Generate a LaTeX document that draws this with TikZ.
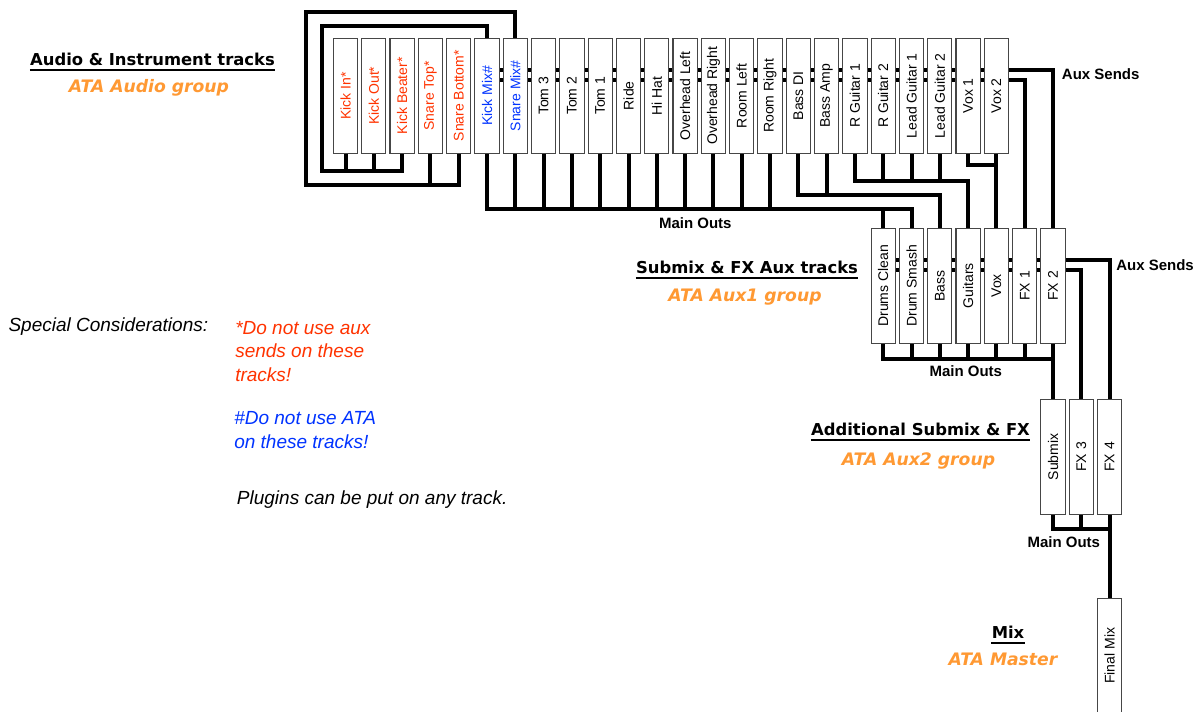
\documentclass[tikz,border=0pt]{standalone}
\usepackage{fontspec}
\setmainfont{Liberation Sans}
\newfontfamily\headfont{DejaVu Sans}
\usepackage{xcolor}
\usepackage{graphicx}
\usepackage{tikz}
\usetikzlibrary{backgrounds}
\definecolor{trackred}{RGB}{255,51,0}
\definecolor{trackblue}{RGB}{0,51,255}
\definecolor{groupamber}{RGB}{255,153,51}
\definecolor{ink}{RGB}{0,0,0}
\definecolor{boxline}{RGB}{70,70,70}

\begin{document}
\begin{tikzpicture}[x=0.75pt, y=-0.75pt,
  track/.style={draw=boxline, line width=0.8pt, fill=white, minimum width=18.2pt, minimum height=86.25pt, inner sep=0pt, text=ink, font={\fontsize{10.5}{12}\selectfont}},
  wire/.style={draw=ink, line width=3pt},
  heading/.style={inner sep=0pt, anchor=base, text=ink, font={\headfont\bfseries\fontsize{12.3}{14}\selectfont}},
  groupname/.style={inner sep=0pt, anchor=base, text=groupamber, font={\headfont\bfseries\itshape\fontsize{12.9}{15}\selectfont}},
  buslabel/.style={inner sep=0pt, anchor=base, text=ink, font={\bfseries\fontsize{11.25}{13}\selectfont}},
  note/.style={inner sep=0pt, anchor=base west, align=left, font={\itshape\fontsize{14.25}{17.8}\selectfont}},
  uline/.style={draw=ink, line width=1.5pt}]
  \useasboundingbox (0,0) rectangle (1200,711);
  \clip (0,0) rectangle (1200,711);

  % audio and instrument tracks
  \node[track, text=trackred] (kickin) at (345.5,95.8) {\rotatebox{90}{Kick In*}};
  \node[track, text=trackred] (kickout) at (373.8,95.8) {\rotatebox{90}{Kick Out*}};
  \node[track, text=trackred] (kickbeater) at (402.1,95.8) {\rotatebox{90}{Kick Beater*}};
  \node[track, text=trackred] (snaretop) at (430.4,95.8) {\rotatebox{90}{Snare Top*}};
  \node[track, text=trackred] (snarebottom) at (458.7,95.8) {\rotatebox{90}{Snare Bottom*}};
  \node[track, text=trackblue] (kickmix) at (487.0,95.8) {\rotatebox{90}{Kick Mix\#}};
  \node[track, text=trackblue] (snaremix) at (515.3,95.8) {\rotatebox{90}{Snare Mix\#}};
  \node[track] (tom3) at (543.6,95.8) {\rotatebox{90}{Tom 3}};
  \node[track] (tom2) at (571.9,95.8) {\rotatebox{90}{Tom 2}};
  \node[track] (tom1) at (600.2,95.8) {\rotatebox{90}{Tom 1}};
  \node[track] (ride) at (628.5,95.8) {\rotatebox{90}{Ride}};
  \node[track] (hihat) at (656.8,95.8) {\rotatebox{90}{Hi Hat}};
  \node[track] (ohleft) at (685.1,95.8) {\rotatebox{90}{Overhead Left}};
  \node[track] (ohright) at (713.4,95.8) {\rotatebox{90}{Overhead Right}};
  \node[track] (roomleft) at (741.7,95.8) {\rotatebox{90}{Room Left}};
  \node[track] (roomright) at (770.0,95.8) {\rotatebox{90}{Room Right}};
  \node[track] (bassdi) at (798.3,95.8) {\rotatebox{90}{Bass DI}};
  \node[track] (bassamp) at (826.6,95.8) {\rotatebox{90}{Bass Amp}};
  \node[track] (rguitar1) at (854.9,95.8) {\rotatebox{90}{R Guitar 1}};
  \node[track] (rguitar2) at (883.2,95.8) {\rotatebox{90}{R Guitar 2}};
  \node[track] (leadguitar1) at (911.5,95.8) {\rotatebox{90}{Lead Guitar 1}};
  \node[track] (leadguitar2) at (939.8,95.8) {\rotatebox{90}{Lead Guitar 2}};
  \node[track] (vox1) at (968.1,95.8) {\rotatebox{90}{Vox 1}};
  \node[track] (vox2) at (996.4,95.8) {\rotatebox{90}{Vox 2}};

  % submix and fx aux tracks
  \node[track] (drumsclean) at (883.2,285.8) {\rotatebox{90}{Drums Clean}};
  \node[track] (drumsmash) at (911.5,285.8) {\rotatebox{90}{Drum Smash}};
  \node[track] (bass) at (939.8,285.8) {\rotatebox{90}{Bass}};
  \node[track] (guitars) at (968.1,285.8) {\rotatebox{90}{Guitars}};
  \node[track] (voxbus) at (996.4,285.8) {\rotatebox{90}{Vox}};
  \node[track] (fx1) at (1024.7,285.8) {\rotatebox{90}{FX 1}};
  \node[track] (fx2) at (1053.0,285.8) {\rotatebox{90}{FX 2}};

  % additional submix, fx and mix
  \node[track] (submix) at (1053.0,456.8) {\rotatebox{90}{Submix}};
  \node[track] (fx3) at (1081.3,456.8) {\rotatebox{90}{FX 3}};
  \node[track] (fx4) at (1109.6,456.8) {\rotatebox{90}{FX 4}};
  \node[track] (finalmix) at (1109.6,655.8) {\rotatebox{90}{Final Mix}};

  % group headings
  \node[heading] (audiohead) at (152.5,65) {Audio \& Instrument tracks};
  \node[groupname] (audiogroup) at (149,92.3) {ATA Audio group};
  \node[heading] (auxhead) at (747,273.3) {Submix \& FX Aux tracks};
  \node[groupname] (auxgroup) at (745,301) {ATA Aux1 group};
  \node[heading] (addhead) at (920.5,435) {Additional Submix \& FX};
  \node[groupname] (addgroup) at (918.5,465) {ATA Aux2 group};
  \node[heading] (mixhead) at (1008,638.3) {Mix};
  \node[groupname] (mixgroup) at (1003,665) {ATA Master};
  \draw[uline] ([yshift=-3.75pt]audiohead.base west) -- ([yshift=-3.75pt]audiohead.base east);
  \draw[uline] ([yshift=-3.75pt]auxhead.base west) -- ([yshift=-3.75pt]auxhead.base east);
  \draw[uline] ([yshift=-3.75pt]addhead.base west) -- ([yshift=-3.75pt]addhead.base east);
  \draw[uline] ([yshift=-3.75pt]mixhead.base west) -- ([yshift=-3.75pt]mixhead.base east);

  % bus labels
  \node[buslabel] (mainouts1) at (695.3,228) {Main Outs};
  \node[buslabel] (mainouts2) at (965.8,376.7) {Main Outs};
  \node[buslabel] (mainouts3) at (1063.8,547.3) {Main Outs};
  \node[buslabel, anchor=base west] (auxsends1) at (1061.7,79.3) {Aux Sends};
  \node[buslabel, anchor=base west] (auxsends2) at (1116,270.7) {Aux Sends};

  % notes (base = last line)
  \node[note, text=ink] (special) at (8.3,331.7) {Special Considerations:};
  \node[note, text=trackred] (noaux) at (235,381.7) {*Do not use aux\\sends on these\\tracks!};
  \node[note, text=trackblue] (noata) at (234,448.3) {\#Do not use ATA\\on these tracks!};
  \node[note, text=ink] (plugins) at (236.7,504) {Plugins can be put on any track.};

  \begin{scope}[on background layer]
    \fill[white] (0,0) rectangle (1200,711);
    % kick and snare folds
    \draw[wire] (kickbeater.south) -- ++(0,16.7) -| ++(-80.4,-145) -| (kickmix.north);
    \draw[wire] (kickin.south) -- ++(0,16.7);
    \draw[wire] (kickout.south) -- ++(0,16.7);
    \draw[wire] (snarebottom.south) -- ++(0,31) -| ++(-152.7,-173.3) -| (snaremix.north);
    \draw[wire] (snaretop.south) -- ++(0,31);
    % drums main outs
    \draw[wire] (kickmix.south) -- ++(0,55) -| (drumsmash.north);
    \draw[wire] (drumsclean.north) -- ++(0,-20);
    \draw[wire] (snaremix.south) -- ++(0,55);
    \draw[wire] (tom3.south) -- ++(0,55);
    \draw[wire] (tom2.south) -- ++(0,55);
    \draw[wire] (tom1.south) -- ++(0,55);
    \draw[wire] (ride.south) -- ++(0,55);
    \draw[wire] (hihat.south) -- ++(0,55);
    \draw[wire] (ohleft.south) -- ++(0,55);
    \draw[wire] (ohright.south) -- ++(0,55);
    \draw[wire] (roomleft.south) -- ++(0,55);
    \draw[wire] (roomright.south) -- ++(0,55);
    % bass, guitars, vox
    \draw[wire] (bassdi.south) -- ++(0,41) -| (bass.north);
    \draw[wire] (bassamp.south) -- ++(0,41);
    \draw[wire] (rguitar1.south) -- ++(0,26.7) -| (guitars.north);
    \draw[wire] (rguitar2.south) -- ++(0,26.7);
    \draw[wire] (leadguitar1.south) -- ++(0,26.7);
    \draw[wire] (leadguitar2.south) -- ++(0,26.7);
    \draw[wire] (vox2.south) -- (voxbus.north);
    \draw[wire] (vox1.south) -- ++(0,10.7) -| (voxbus.north);
    % aux sends
    \draw[wire] (kickmix.center) ++(0,-25.8) -| (fx2.north);
    \draw[wire] (kickmix.center) ++(0,-15.8) -| (fx1.north);
    \draw[wire] (drumsclean.center) ++(0,-25.8) -| (fx4.north);
    \draw[wire] (drumsclean.center) ++(0,-15.8) -| (fx3.north);
    % submix main outs
    \draw[wire] (drumsclean.south) -- ++(0,15) -| (submix.north);
    \draw[wire] (drumsmash.south) -- ++(0,15);
    \draw[wire] (bass.south) -- ++(0,15);
    \draw[wire] (guitars.south) -- ++(0,15);
    \draw[wire] (voxbus.south) -- ++(0,15);
    \draw[wire] (fx1.south) -- ++(0,15);
    \draw[wire] (fx2.south) -- ++(0,15);
    % final main outs
    \draw[wire] (submix.south) -- ++(0,14.3) -| (finalmix.north);
    \draw[wire] (fx3.south) -- ++(0,14.3);
    \draw[wire] (fx4.south) -- ++(0,14.3);
  \end{scope}
\end{tikzpicture}
\end{document}
